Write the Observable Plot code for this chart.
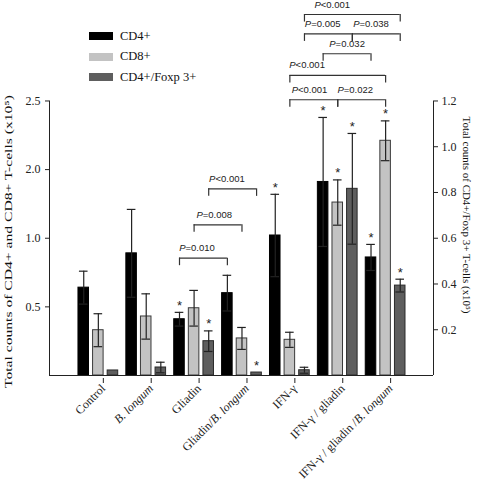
<!DOCTYPE html>
<html><head><meta charset="utf-8">
<script src="https://cdn.jsdelivr.net/npm/d3@7"></script>
<script src="https://cdn.jsdelivr.net/npm/@observablehq/plot@0.6"></script>
<style>
body{margin:0;background:#fff;}
#wrap{position:relative;width:484px;height:488px;}
#legend{position:absolute;left:89px;top:26px;font-family:"Liberation Serif",serif;font-size:12.5px;color:#111;}
.row{display:flex;align-items:center;height:20.5px;}
.sw{width:24px;height:8px;margin-right:7px;}
</style></head><body><div id="wrap"><div id="legend"></div></div>
<script>
// ---- data ----
const groups = ["Control","B. longum","Gliadin","Gliadin/B. longum","IFN-γ","IFN-γ / gliadin","IFN-γ / gliadin /B. longum"];
const series = ["CD4+","CD8+","CD4+/Foxp3+"];
// left axis units (CD4+, CD8+)
const cd4    = [0.64, 0.89, 0.41, 0.60, 1.02, 1.41, 0.86];
const cd4Err = [0.12, 0.32, 0.05, 0.13, 0.30, 0.47, 0.095];
const cd8    = [0.33, 0.43, 0.49, 0.27, 0.26, 1.26, 1.71];
const cd8Err = [0.12, 0.165, 0.13, 0.08, 0.055, 0.165, 0.145];
// right axis units (CD4+/Foxp3+)
const foxp3    = [0.022, 0.035, 0.15, 0.013, 0.023, 0.816, 0.393];
const foxp3Err = [0, 0.023, 0.045, 0, 0.013, 0.242, 0.028];
const cd4Star = [0,0,1,0,1,1,1];
const cd8Star = [0,0,0,0,0,1,1];
const foxStar = [0,0,1,1,0,1,1];
const leftTicks = [0.5, 1.0, 1.5, 2.0];
const leftTickLabels = ["0.5","1.0","2.0","2.5"];
const rightTicks = [0.2, 0.4, 0.6, 0.8, 1.0, 1.2];
const rightTickLabels = ["0.2","0.4","0.6","0.8","1.0","1.2"];
const leftTitle = "Total counts of CD4+ and CD8+ T-cells (x10⁵)";
const rightTitle = "Total counts of CD4+/Foxp 3+ T-cells (x10⁵)";
// comparisons: [group, series]
const pFrom = [[2,0],[2,1],[2,2],[4,1],[5,1],[4,1],[5,0],[4,2],[5,2],[4,2]];
const pTo   = [[3,0],[3,1],[3,2],[5,1],[6,1],[6,1],[6,0],[5,2],[6,2],[6,2]];
const pLabels = ["P=0.010","P=0.008","P<0.001","P<0.001","P=0.022","P<0.001","P=0.032","P=0.005","P=0.038","P<0.001"];
const pLevels = [0.855, 1.098, 1.360, 2.009, 2.009, 2.186, 2.344, 2.489, 2.489, 2.630];

// ---- layout ----
const leftMax = 2.0, rightMax = 1.2, k = leftMax / rightMax;
const xMin = -1.02, xMax = 7.0, yTop = 2.732;
const offsets = [-0.305, 0, 0.305];
const barHalf = 0.11, capHalf = 0.09, tickDepth = 0.055;
const labelFrac = [0.366, 0.42, 0.38, 0.41, 0.366, 0.18, 0.5, 0.38, 0.39, 0.29];
const fills = ["#000000", "#c3c3c3", "#5e5e5e"];
const strokes = ["#000000", "#3a3a3a", "#2a2a2a"];
const serif = "'Liberation Serif', 'Times New Roman', serif";
const sans = "'Liberation Sans', Arial, sans-serif";

const vals = [cd4, cd8, foxp3], errs = [cd4Err, cd8Err, foxp3Err], stars = [cd4Star, cd8Star, foxStar];
const rows = [];
groups.forEach((g, i) => series.forEach((s, j) => {
  const f = j === 2 ? k : 1;
  rows.push({g, i, s, j, x: i + offsets[j], v: vals[j][i] * f, e: errs[j][i] * f, star: stars[j][i]});
}));
const withErr = rows.filter(d => d.e > 0);
const pos = ([gi, sj]) => gi + offsets[sj];
const brackets = pLabels.map((label, n) => {
  const x1 = pos(pFrom[n]), x2 = pos(pTo[n]);
  return {x1, x2, y: pLevels[n], label, lx: x1 + (x2 - x1) * labelFrac[n]};
});
const axisColor = "#222";

const marks = [];
series.forEach((s, j) => marks.push(Plot.rect(rows.filter(d => d.j === j), {
  x1: d => d.x - barHalf, x2: d => d.x + barHalf, y1: 0, y2: "v",
  fill: fills[j], stroke: strokes[j], strokeWidth: 1
})));
marks.push(
  Plot.ruleX(withErr, {x: "x", y1: d => d.v - d.e, y2: d => d.v + d.e, stroke: "#222", strokeWidth: 1.2}),
  Plot.ruleY(withErr, {y: d => d.v + d.e, x1: d => d.x - capHalf, x2: d => d.x + capHalf, stroke: "#222", strokeWidth: 1.2}),
  Plot.ruleY(withErr, {y: d => d.v - d.e, x1: d => d.x - capHalf, x2: d => d.x + capHalf, stroke: "#222", strokeWidth: 1.2}),
  Plot.text(rows.filter(d => d.star), {x: "x", y: d => d.v + d.e, text: () => "*", fontFamily: sans, fontSize: 13, lineAnchor: "bottom", dy: -2.5, fill: "#222"}),
  Plot.ruleY(brackets, {y: "y", x1: "x1", x2: "x2", stroke: "#333", strokeWidth: 1.2}),
  Plot.ruleX(brackets, {x: "x1", y1: d => d.y - tickDepth, y2: "y", stroke: "#333", strokeWidth: 1.2}),
  Plot.ruleX(brackets, {x: "x2", y1: d => d.y - tickDepth, y2: "y", stroke: "#333", strokeWidth: 1.2}),
  Plot.text(brackets, {x: "lx", y: "y", text: "label", dy: -10, fontFamily: sans, fontSize: 9.5, fill: "#222"}),
  Plot.ruleY([0], {x1: xMin, x2: xMax, stroke: axisColor}),
  Plot.ruleX([xMin], {y1: 0, y2: leftMax, stroke: axisColor}),
  Plot.ruleX([xMax], {y1: 0, y2: leftMax, stroke: axisColor}),
  Plot.axisY({anchor: "left", ticks: leftTicks, tickFormat: d => leftTickLabels[leftTicks.findIndex(v => Math.abs(v - d) < 1e-9)], tickSize: 4, tickPadding: 5, label: null, stroke: axisColor}),
  Plot.axisY({anchor: "right", ticks: rightTicks.map(v => v * k), tickFormat: d => rightTickLabels[rightTicks.findIndex(v => Math.abs(v * k - d) < 1e-9)], tickSize: 4, tickPadding: 4, label: null, stroke: axisColor}),
  Plot.axisX({ticks: d3.range(groups.length), tickFormat: i => groups[i], tickRotate: -45, tickSize: 5, tickPadding: 3, dx: 5, dy: 3, label: null, stroke: axisColor, fontSize: 12}),
  Plot.text([leftTitle], {text: d => d, frameAnchor: "left", rotate: -90, fontSize: 10, fontFamily: serif, fill: "#111"}),
  Plot.text([rightTitle], {text: d => d, frameAnchor: "right", rotate: 90, fontSize: 11, fontFamily: serif, fill: "#111"})
);

const svg = Plot.plot({
  width: 484, height: 488,
  marginLeft: 49, marginRight: 51, marginTop: 0, marginBottom: 113,
  x: {domain: [xMin, xMax]},
  y: {domain: [0, yTop]},
  style: {fontFamily: serif, fontSize: "12px", color: "#222", background: "#fff"},
  marks
});
document.getElementById("wrap").prepend(svg);

const allText = Array.from(svg.querySelectorAll("text"));
// italic species names in x tick labels; italic P in p-values
allText.forEach(t => {
  const s = t.textContent;
  const el = d3.select(t);
  if (groups.includes(s) && s.includes("B. longum")) {
    const idx = s.indexOf("B. longum");
    el.text(null);
    if (idx > 0) el.append("tspan").text(s.slice(0, idx));
    el.append("tspan").attr("font-style", "italic").text("B. longum");
    if (idx + 9 < s.length) el.append("tspan").text(s.slice(idx + 9));
  } else if (pLabels.includes(s)) {
    el.text(null);
    el.append("tspan").attr("font-style", "italic").text(s[0]);
    el.append("tspan").text(s.slice(1));
  }
});
// place axis titles like the original (left one is stretched)
function placeTitle(str, tx, ty, rot, len) {
  const t = allText.find(e => e.textContent === str);
  if (!t) return;
  if (t.parentNode && t.parentNode.removeAttribute) t.parentNode.removeAttribute("transform");
  t.removeAttribute("x"); t.removeAttribute("y");
  t.setAttribute("text-anchor", "middle");
  t.setAttribute("dy", "0.32em");
  t.setAttribute("transform", `translate(${tx},${ty}) rotate(${rot})`);
  if (len) { t.setAttribute("textLength", len); t.setAttribute("lengthAdjust", "spacingAndGlyphs"); }
}
placeTitle(leftTitle, 8.5, 241.5, -90, 293);
placeTitle(rightTitle, 466.5, 215, 90, 197);

// legend
const legend = d3.select("#legend");
series.forEach((s, j) => {
  const r = legend.append("div").attr("class", "row");
  r.append("div").attr("class", "sw").style("background", fills[j]);
  r.append("span").text(s === "CD4+/Foxp3+" ? "CD4+/Foxp 3+" : s);
});
</script></body></html>
